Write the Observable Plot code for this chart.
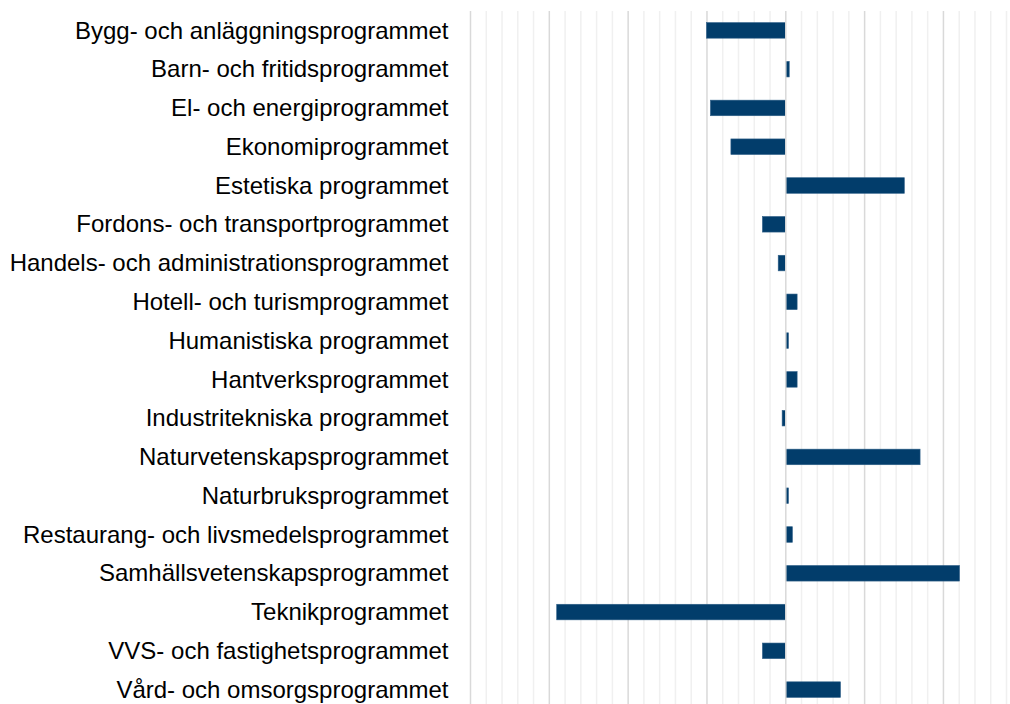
<!DOCTYPE html>
<html>
<head>
<meta charset="utf-8">
<script src="https://cdn.jsdelivr.net/npm/d3@7"></script>
<script src="https://cdn.jsdelivr.net/npm/@observablehq/plot@0.6"></script>
<style>
  html, body { margin: 0; padding: 0; background: #fff; overflow: hidden; }
  #chart svg { display: block; }
</style>
</head>
<body>
<div id="chart"></div>
<script>
const programs = [
  "Bygg- och anläggningsprogrammet",
  "Barn- och fritidsprogrammet",
  "El- och energiprogrammet",
  "Ekonomiprogrammet",
  "Estetiska programmet",
  "Fordons- och transportprogrammet",
  "Handels- och administrationsprogrammet",
  "Hotell- och turismprogrammet",
  "Humanistiska programmet",
  "Hantverksprogrammet",
  "Industritekniska programmet",
  "Naturvetenskapsprogrammet",
  "Naturbruksprogrammet",
  "Restaurang- och livsmedelsprogrammet",
  "Samhällsvetenskapsprogrammet",
  "Teknikprogrammet",
  "VVS- och fastighetsprogrammet",
  "Vård- och omsorgsprogrammet"
];
const values = [
  -5.0, 0.25, -4.75, -3.45, 7.55, -1.45, -0.45, 0.75, 0.2, 0.75,
  -0.2, 8.55, 0.2, 0.45, 11.05, -14.5, -1.45, 3.5
];
const majorTicks = [-20, -15, -10, -5, 0, 5, 10];
const minorTicks = [-19, -18, -17, -16, -14, -13, -12, -11, -9, -8, -7, -6, -4, -3, -2, -1,
                    1, 2, 3, 4, 6, 7, 8, 9, 11, 12, 13, 14];

const data = programs.map((p, i) => ({program: p, value: values[i]}));

const chart = Plot.plot({
  width: 1010,
  height: 704,
  marginLeft: 470,
  marginRight: 4,
  marginTop: 11,
  marginBottom: 0,
  style: {fontFamily: "'Liberation Sans', Arial, sans-serif", fontSize: "24px", color: "#000", background: "#fff"},
  x: {domain: [-20, 14], range: [470, 1006], axis: null},
  y: {domain: programs, range: [11, 709], padding: 0, round: false, label: null},
  marks: [
    Plot.ruleX(minorTicks, {stroke: "#f0f0f0", strokeWidth: 1.5}),
    Plot.ruleX(majorTicks.filter(d => d !== 0), {stroke: "#d9d9d9", strokeWidth: 1.5}),
    Plot.barX(data, {x1: 0, x2: "value", y: "program", insetTop: 11.6, insetBottom: 11.6,
                     fill: "#023d6b", stroke: "#2f5f88", strokeWidth: 0.6}),
    Plot.ruleX([0], {stroke: "#d9d9d9", strokeWidth: 1.5}),
    Plot.axisY({tickSize: 0, tickPadding: 22, fontSize: 24, fill: "#000", label: null})
  ]
});
document.getElementById("chart").appendChild(chart);
</script>
</body>
</html>
